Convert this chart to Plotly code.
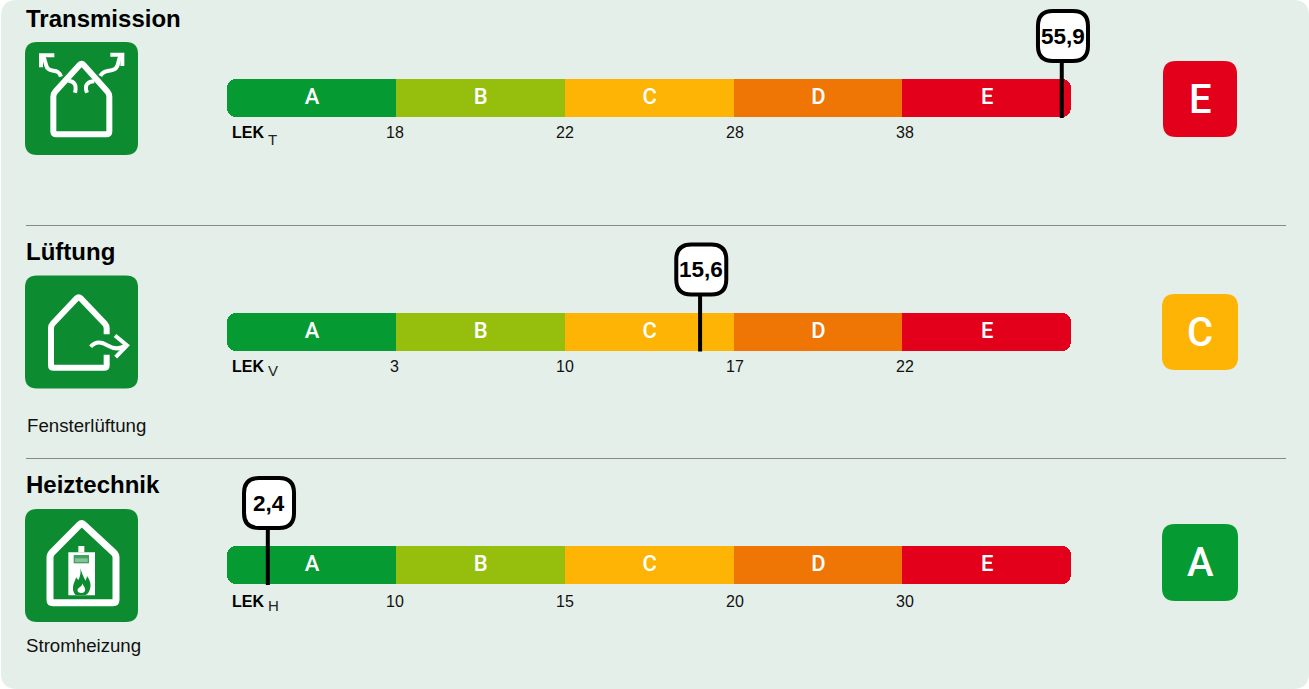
import re
import numpy as np
import plotly.graph_objects as go

W, H = 1309, 689

# ---- data ----
rows = ["Transmission", "Lüftung", "Heiztechnik"]
subtitles = ["", "Fensterlüftung", "Stromheizung"]
lek_subscripts = ["T", "V", "H"]
classes = ["A", "B", "C", "D", "E"]
class_colors = ["#069a33", "#96bf0d", "#fdb404", "#ef7505", "#e2001a"]
bounds_t = [0, 18, 22, 28, 38, 57]
bounds_v = [0, 3, 10, 17, 22, 27]
bounds_h = [0, 10, 15, 20, 30, 40]
tick_labels_t = ["18", "22", "28", "38"]
tick_labels_v = ["3", "10", "17", "22"]
tick_labels_h = ["10", "15", "20", "30"]
values = [55.9, 15.6, 2.4]
value_labels = ["55,9", "15,6", "2,4"]
ratings = ["E", "C", "A"]

# ---- scales ----
X0, UNIT = 227.0, 168.85    # pixel of class-scale 0, px per class
Y0, ROW = 98.0, 233.5       # pixel of row 0, px per row
BAR_H = 38.0
xrange_ = [-X0 / UNIT, (W - X0) / UNIT]
yrange_ = [(H - Y0) / ROW, -Y0 / ROW]
all_bounds = [bounds_t, bounds_v, bounds_h]
all_ticks = [tick_labels_t, tick_labels_v, tick_labels_h]
positions = [float(np.interp(v, b, range(6))) for v, b in zip(values, all_bounds)]
y_rows = list(range(len(rows)))

fig = go.Figure()

# class bars: the two rounded end classes lie under their neighbours,
# so only their outer corners stay visible
OVERLAP = 0.15
draw_order = [0, 4, 1, 2, 3]
for i in draw_order:
    if i == 0:
        base, width, radius = 0, 1 + OVERLAP, 9
    elif i == 4:
        base, width, radius = 4 - OVERLAP, 1 + OVERLAP, 9
    else:
        base, width, radius = i, 1, 0
    fig.add_bar(
        y=y_rows, x=[width] * 3, base=[base] * 3, orientation="h",
        width=BAR_H / ROW,
        marker=dict(color=class_colors[i], line=dict(width=0), cornerradius=radius),
        hoverinfo="skip", showlegend=False,
    )

# class letters
for i, c in enumerate(classes):
    fig.add_scatter(
        x=[i + 0.5 + 0.5 / UNIT] * 3, y=[r + 0.5 / ROW for r in y_rows], mode="text", text=[c] * 3,
        textposition="middle center",
        textfont=dict(family="Roboto", size=22, color="white", weight=500),
        hoverinfo="skip", showlegend=False,
    )

# value stems
for p, r in zip(positions, y_rows):
    fig.add_scatter(
        x=[p + 0.3 / UNIT] * 2, y=[r + 20 / ROW, r - 40 / ROW], mode="lines",
        line=dict(color="black", width=4), hoverinfo="skip", showlegend=False,
    )

# ---- decoration helpers (pixel -> paper) ----
def fx(x): return x / W
def fy(y): return 1 - y / H

def px_path(s, ox=0.0, oy=0.0, k=1.0):
    nums = re.findall(r"[A-Za-z]|-?\d+\.?\d*", s)
    out, is_x = [], True
    for t in nums:
        if t.isalpha():
            out.append(t); is_x = True
        elif is_x:
            out.append(f"{fx(ox + float(t) * k):.6f}"); is_x = False
        else:
            out.append(f"{fy(oy + float(t) * k):.6f}"); is_x = True
    txt = ""
    for t in out:
        txt += (t if t.isalpha() else t + " ")
    return txt

def rrect(x0, y0, x1, y1, r):
    return (f"M {x0 + r} {y0} L {x1 - r} {y0} Q {x1} {y0} {x1} {y0 + r} "
            f"L {x1} {y1 - r} Q {x1} {y1} {x1 - r} {y1} L {x0 + r} {y1} "
            f"Q {x0} {y1} {x0} {y1 - r} L {x0} {y0 + r} Q {x0} {y0} {x0 + r} {y0} Z")

def rpoly(pts, r, closed=True):
    n = len(pts)
    pts = [np.array(p, float) for p in pts]
    s = ""
    idx = range(n) if closed else range(1, n - 1)
    first = True
    if not closed:
        s = f"M {pts[0][0]} {pts[0][1]} "
        first = False
    for i in idx:
        p, a, b = pts[i], pts[i - 1], pts[(i + 1) % n]
        u = (a - p) / np.linalg.norm(a - p)
        v = (b - p) / np.linalg.norm(b - p)
        s1, s2 = p + u * r, p + v * r
        s += f"{'M' if first else 'L'} {s1[0]:.2f} {s1[1]:.2f} Q {p[0]:.2f} {p[1]:.2f} {s2[0]:.2f} {s2[1]:.2f} "
        first = False
    if closed:
        s += "Z"
    else:
        s += f"L {pts[-1][0]} {pts[-1][1]}"
    return s

shapes = []
def add(path, fill=None, line=None, lw=0, ox=0.0, oy=0.0, k=1.0, layer="below"):
    d = dict(type="path", xref="paper", yref="paper", layer=layer,
             path=px_path(path, ox, oy, k), line=dict(width=lw, color=line or "rgba(0,0,0,0)"))
    if fill:
        d["fillcolor"] = fill
    shapes.append(d)

PANEL = "#e4efe9"
ICON = "#0d8b30"
# panel and separators
add(rrect(1, 0, W + 0, H, 16), fill=PANEL)
for y in (225.5, 458.5):
    add(f"M 26 {y} L 1286 {y}", line="#868a87", lw=1)

# icon backgrounds
icon_tops = [42, 275.5, 509]
for t in icon_tops:
    add(rrect(25, t, 138, t + 113, 12), fill=ICON)

K = 1 / 3
# icon 1: house with escaping heat
ox, oy = 25, 42
add(rpoly([(85, 155), (170, 62), (253, 155), (253, 277), (85, 277)], 9), line="white", lw=6, ox=ox, oy=oy, k=K)
for p in ["M 48 76 L 48 40 L 88 40",
          "M 292 72 L 292 38 L 256 38",
          "M 54 44 C 66 58 58 76 72 82 C 84 90 100 80 108 104",
          "M 286 44 C 276 58 284 74 268 82 C 254 90 236 82 226 102",
          "M 150 152 C 156 128 148 118 130 116",
          "M 186 152 C 176 128 190 118 208 118"]:
    add(p, line="white", lw=4, ox=ox, oy=oy, k=K)

# icon 2: house with outgoing air
ox, oy = 25, 275.5
add(rpoly([(245, 176), (245, 150), (161, 62), (78, 150), (78, 277), (245, 277), (245, 238)], 8, closed=False),
    line="white", lw=6, ox=ox, oy=oy, k=K)
add("M 197 214 C 212 196 232 200 248 210 C 265 220 285 222 302 210", line="white", lw=4, ox=ox, oy=oy, k=K)
add("M 270 180 L 306 210 L 272 245", line="white", lw=4, ox=ox, oy=oy, k=K)

# icon 3: house with electric heater
ox, oy = 25, 508
add(rpoly([(75, 140), (170, 44), (273, 140), (273, 284), (75, 284)], 9), line="white", lw=7, ox=ox, oy=oy, k=K)
add("M 130 133 L 210 133 L 210 262 L 130 262 Z", fill="white", ox=ox, oy=oy, k=K)
add("M 160 114 L 178 114 L 178 133 L 160 133 Z", fill="white", ox=ox, oy=oy, k=K)
add("M 146 141 L 192 141 L 192 166 L 146 166 Z", fill="#3fa35f", ox=ox, oy=oy, k=K)
add("M 150 151 L 188 151 L 188 162 L 150 162 Z", fill="#86c39a", ox=ox, oy=oy, k=K)
add("M 166 180 C 172 200 178 212 182 218 C 184 212 186 208 186 204 C 196 218 200 232 194 246 "
    "C 192 252 188 258 182 261 L 152 261 C 142 252 142 236 148 222 C 150 218 152 212 154 208 "
    "C 156 212 158 214 160 216 C 166 206 168 192 166 180 Z", fill=ICON, ox=ox, oy=oy, k=K)
add("M 172 226 C 176 236 182 240 180 248 C 178 256 162 258 158 250 C 156 244 160 240 164 238 "
    "C 168 236 172 232 172 226 Z", fill="white", ox=ox, oy=oy, k=K)

# rating boxes
rating_boxes = [(1163, 61, 1237, 137), (1162, 294, 1238, 370), (1162, 524, 1238, 601)]
ann = []
for (x0, y0, x1, y1), letter in zip(rating_boxes, ratings):
    add(rrect(x0, y0, x1, y1, 13), fill=class_colors[classes.index(letter)])
    ann.append(dict(x=fx((x0 + x1) / 2), y=fy((y0 + y1) / 2), xref="paper", yref="paper",
                    text=letter, showarrow=False, xanchor="center", yanchor="middle",
                    font=dict(family="Roboto", size=40, color="white", weight=500)))

TXT = "#000000"
def label(x, y, text, size, bold=False, anchor="left", color=TXT):
    ann.append(dict(x=fx(x - 2), y=fy(y), xref="paper", yref="paper", text=f"<b>{text}</b>" if bold else text,
                    showarrow=False, xanchor=anchor, yanchor="middle",
                    font=dict(family="Liberation Sans", size=size, color=color)))

title_y = [18, 251, 484]
sub_y = [None, 425, 645]
sub_x = [None, 27, 26]
lek_y = [132, 366, 601]
subscript_drop = [7.5, 4.5, 4]
for i in y_rows:
    label(26, title_y[i], rows[i], 24, bold=True)
    if subtitles[i]:
        label(sub_x[i], sub_y[i], subtitles[i], 18.67, color="#111111")
    label(232, lek_y[i], "LEK", 16, bold=True)
    label(268, lek_y[i] + subscript_drop[i], lek_subscripts[i], 15, color="#222222")

# tick labels at class boundaries
tick_shift = [-1, 0, 1.5, 3]
tick_down = [-34.5, -35, -36]
for r, ticks in zip(y_rows, all_ticks):
    for j, t in enumerate(ticks):
        ann.append(dict(x=j + 1, y=r, xref="x", yref="y", text=t, showarrow=False,
                        xanchor="center", yanchor="middle", xshift=tick_shift[j], yshift=tick_down[r],
                        font=dict(family="Liberation Sans", size=16, color="#111111")))

# value tags, anchored to the value on the class scale
TAG = 25
for p, r, lab in zip(positions, y_rows, value_labels):
    c = 62
    shapes.append(dict(
        type="path", xref="x", yref="y", xsizemode="pixel", ysizemode="pixel",
        xanchor=p, yanchor=r, layer="above",
        path=rrect(1.5 - TAG, c - TAG, 1.5 + TAG, c + TAG, 15),
        fillcolor="white", line=dict(color="black", width=4),
    ))
    ann.append(dict(x=p, y=r, xref="x", yref="y", text=f"<b>{lab}</b>", showarrow=False,
                    xanchor="center", yanchor="middle", xshift=1.5, yshift=62,
                    font=dict(family="Liberation Sans", size=22.5, color="black")))

fig.update_layout(
    width=W, height=H, margin=dict(l=0, r=0, t=0, b=0),
    paper_bgcolor="white", plot_bgcolor="rgba(0,0,0,0)",
    barmode="overlay", bargap=0,
    xaxis=dict(range=xrange_, visible=False, fixedrange=True),
    yaxis=dict(range=yrange_, visible=False, fixedrange=True),
    shapes=shapes, annotations=ann, showlegend=False,
)

fig.write_html(
    "out.html",
    config={"displayModeBar": False},
    post_script="document.body.style.margin='0';document.body.style.overflow='hidden';",
)
